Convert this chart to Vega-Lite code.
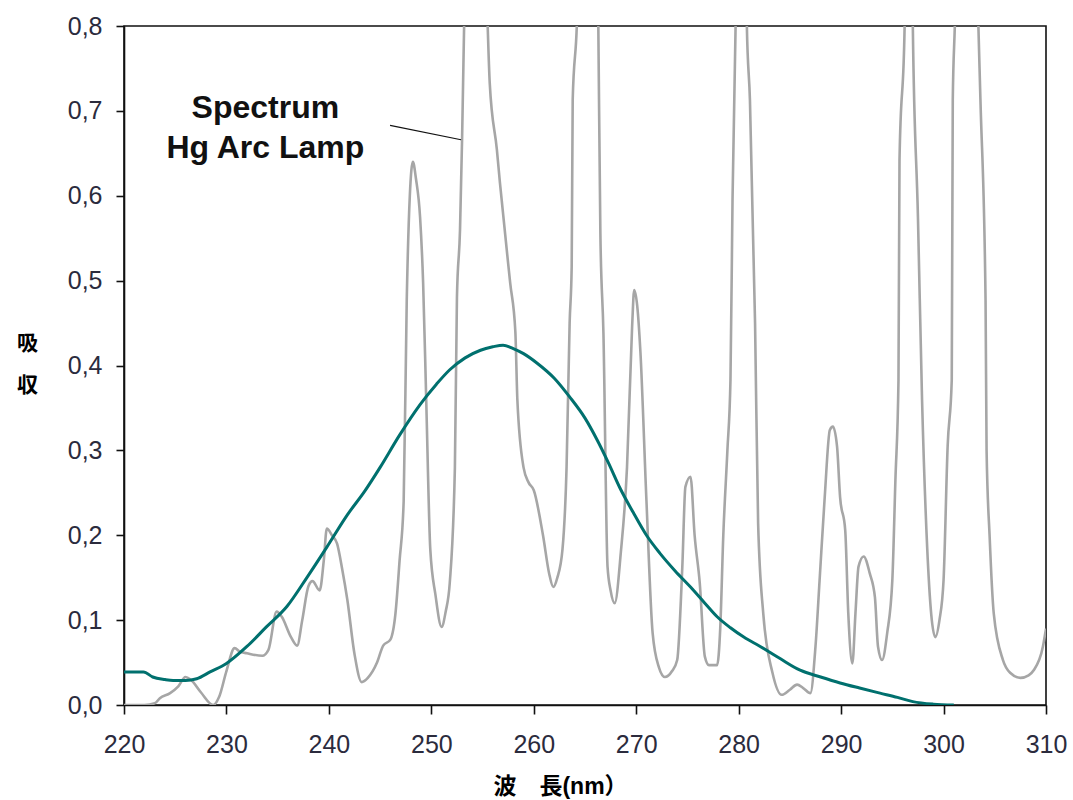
{
  "$schema": "https://vega.github.io/schema/vega-lite/v6.json",
  "width": 922,
  "height": 679,
  "autosize": "none",
  "padding": {"left": 124, "top": 26, "right": 27, "bottom": 95},
  "background": "white",
  "config": {
    "font": "Liberation Sans, Noto Sans CJK JP",
    "view": {"stroke": "#111111", "strokeWidth": 1.6},
    "axis": {
      "grid": false,
      "domainColor": "#111111",
      "domainWidth": 1.6,
      "tickColor": "#111111",
      "tickWidth": 1.6,
      "tickSize": 8,
      "labelFont": "Liberation Sans",
      "labelFontSize": 25,
      "labelColor": "#2b2b3d",
      "titleFont": "Liberation Sans, Noto Sans CJK JP",
      "titleFontWeight": "bold",
      "titleColor": "#000000"
    }
  },
  "datasets": {
    "lamp": [
      {"wl": 220, "v": 0}, {"wl": 221, "v": 0}, {"wl": 222, "v": 0}, {"wl": 223, "v": 0.002},
      {"wl": 223.5, "v": 0.008}, {"wl": 224.5, "v": 0.014}, {"wl": 225.3, "v": 0.022}, {"wl": 226, "v": 0.033},
      {"wl": 226.5, "v": 0.03}, {"wl": 227.5, "v": 0.015}, {"wl": 228.7, "v": 0.0}, {"wl": 229.3, "v": 0.01},
      {"wl": 230, "v": 0.04}, {"wl": 230.8, "v": 0.067}, {"wl": 231.3, "v": 0.063}, {"wl": 232, "v": 0.061},
      {"wl": 233.5, "v": 0.058}, {"wl": 234.1, "v": 0.065}, {"wl": 234.9, "v": 0.11}, {"wl": 235.4, "v": 0.104},
      {"wl": 236.3, "v": 0.08}, {"wl": 236.9, "v": 0.07}, {"wl": 237.4, "v": 0.1}, {"wl": 238, "v": 0.14},
      {"wl": 238.4, "v": 0.146}, {"wl": 239.1, "v": 0.135}, {"wl": 239.5, "v": 0.17}, {"wl": 239.8, "v": 0.208},
      {"wl": 240.3, "v": 0.2}, {"wl": 240.8, "v": 0.19}, {"wl": 241.3, "v": 0.16}, {"wl": 241.8, "v": 0.124},
      {"wl": 242.5, "v": 0.06}, {"wl": 243.2, "v": 0.027}, {"wl": 243.8, "v": 0.032}, {"wl": 244.7, "v": 0.05},
      {"wl": 245.3, "v": 0.07}, {"wl": 246, "v": 0.077}, {"wl": 246.5, "v": 0.108}, {"wl": 246.9, "v": 0.17},
      {"wl": 247.3, "v": 0.24}, {"wl": 247.6, "v": 0.477}, {"wl": 247.9, "v": 0.6}, {"wl": 248.2, "v": 0.64},
      {"wl": 248.5, "v": 0.62}, {"wl": 248.9, "v": 0.575}, {"wl": 249.2, "v": 0.497}, {"wl": 249.5, "v": 0.36},
      {"wl": 249.9, "v": 0.183}, {"wl": 250.4, "v": 0.13}, {"wl": 251, "v": 0.092}, {"wl": 251.4, "v": 0.11},
      {"wl": 251.8, "v": 0.144}, {"wl": 252.3, "v": 0.28}, {"wl": 252.5, "v": 0.48}, {"wl": 252.8, "v": 0.56},
      {"wl": 253.0, "v": 0.666}, {"wl": 253.1, "v": 0.733}, {"wl": 253.2, "v": 0.8}, {"wl": 254.35, "v": 1.5},
      {"wl": 255.5, "v": 0.8}, {"wl": 255.7, "v": 0.733}, {"wl": 256.4, "v": 0.654}, {"wl": 256.7, "v": 0.615},
      {"wl": 257.7, "v": 0.497}, {"wl": 258.2, "v": 0.44}, {"wl": 258.4, "v": 0.359}, {"wl": 259, "v": 0.28},
      {"wl": 259.5, "v": 0.262}, {"wl": 260, "v": 0.253}, {"wl": 260.9, "v": 0.2}, {"wl": 261.5, "v": 0.155},
      {"wl": 261.9, "v": 0.139}, {"wl": 262.3, "v": 0.15}, {"wl": 262.8, "v": 0.183}, {"wl": 263.2, "v": 0.28},
      {"wl": 263.5, "v": 0.45}, {"wl": 263.7, "v": 0.516}, {"wl": 263.8, "v": 0.713}, {"wl": 264.2, "v": 0.8},
      {"wl": 265.25, "v": 1.5}, {"wl": 266.3, "v": 0.8}, {"wl": 266.5, "v": 0.556}, {"wl": 266.8, "v": 0.438},
      {"wl": 267.2, "v": 0.163}, {"wl": 267.5, "v": 0.135}, {"wl": 267.9, "v": 0.12}, {"wl": 268.5, "v": 0.18},
      {"wl": 269.1, "v": 0.28}, {"wl": 269.6, "v": 0.446}, {"wl": 269.8, "v": 0.489}, {"wl": 270.1, "v": 0.47},
      {"wl": 270.4, "v": 0.418}, {"wl": 271, "v": 0.24}, {"wl": 271.6, "v": 0.085}, {"wl": 272.2, "v": 0.045},
      {"wl": 272.8, "v": 0.033}, {"wl": 273.5, "v": 0.04}, {"wl": 274, "v": 0.053}, {"wl": 274.5, "v": 0.163},
      {"wl": 274.8, "v": 0.257}, {"wl": 275.3, "v": 0.269}, {"wl": 275.7, "v": 0.2}, {"wl": 276.2, "v": 0.144},
      {"wl": 276.7, "v": 0.057}, {"wl": 277.1, "v": 0.047}, {"wl": 277.9, "v": 0.047}, {"wl": 278.2, "v": 0.09},
      {"wl": 278.5, "v": 0.2}, {"wl": 278.9, "v": 0.3}, {"wl": 279.2, "v": 0.383}, {"wl": 279.4, "v": 0.595},
      {"wl": 279.7, "v": 0.8}, {"wl": 280.25, "v": 1.5}, {"wl": 280.8, "v": 0.8}, {"wl": 281.1, "v": 0.713},
      {"wl": 281.6, "v": 0.45}, {"wl": 281.9, "v": 0.214}, {"wl": 282.4, "v": 0.108}, {"wl": 283.3, "v": 0.038},
      {"wl": 284.2, "v": 0.012}, {"wl": 285, "v": 0.018}, {"wl": 285.7, "v": 0.024}, {"wl": 286.3, "v": 0.02},
      {"wl": 287, "v": 0.014}, {"wl": 287.5, "v": 0.069}, {"wl": 287.9, "v": 0.147}, {"wl": 288.4, "v": 0.245},
      {"wl": 288.9, "v": 0.324}, {"wl": 289.2, "v": 0.328}, {"wl": 289.6, "v": 0.305}, {"wl": 289.9, "v": 0.245},
      {"wl": 290.4, "v": 0.206}, {"wl": 290.7, "v": 0.108}, {"wl": 291.1, "v": 0.049}, {"wl": 291.4, "v": 0.108},
      {"wl": 291.7, "v": 0.163}, {"wl": 292.2, "v": 0.175}, {"wl": 292.8, "v": 0.155}, {"wl": 293.3, "v": 0.127},
      {"wl": 293.6, "v": 0.069}, {"wl": 294, "v": 0.053}, {"wl": 294.5, "v": 0.085}, {"wl": 295, "v": 0.147},
      {"wl": 295.3, "v": 0.265}, {"wl": 295.6, "v": 0.383}, {"wl": 295.7, "v": 0.642}, {"wl": 296.2, "v": 0.8},
      {"wl": 296.6, "v": 1.5}, {"wl": 297, "v": 0.8}, {"wl": 297.5, "v": 0.575}, {"wl": 297.9, "v": 0.36},
      {"wl": 298.4, "v": 0.186}, {"wl": 299.2, "v": 0.08}, {"wl": 299.6, "v": 0.1}, {"wl": 300, "v": 0.147},
      {"wl": 300.4, "v": 0.305}, {"wl": 300.8, "v": 0.383}, {"wl": 300.9, "v": 0.713}, {"wl": 301.1, "v": 0.8},
      {"wl": 302.25, "v": 1.5}, {"wl": 303.4, "v": 0.8}, {"wl": 303.6, "v": 0.713}, {"wl": 304.1, "v": 0.477},
      {"wl": 304.2, "v": 0.3}, {"wl": 304.5, "v": 0.198}, {"wl": 304.9, "v": 0.108}, {"wl": 305.8, "v": 0.053},
      {"wl": 306.5, "v": 0.038}, {"wl": 307.5, "v": 0.032}, {"wl": 308.3, "v": 0.035}, {"wl": 308.8, "v": 0.041},
      {"wl": 309.7, "v": 0.069}, {"wl": 310, "v": 0.09}
    ],
    "absorb": [
      {"wl": 220, "v": 0.039}, {"wl": 221.9, "v": 0.039}, {"wl": 222.8, "v": 0.033}, {"wl": 224, "v": 0.03},
      {"wl": 224.8, "v": 0.029}, {"wl": 226, "v": 0.029}, {"wl": 227.1, "v": 0.031}, {"wl": 228.4, "v": 0.039},
      {"wl": 230, "v": 0.049}, {"wl": 232, "v": 0.069}, {"wl": 233.9, "v": 0.092}, {"wl": 235.9, "v": 0.116},
      {"wl": 237.9, "v": 0.151}, {"wl": 239.8, "v": 0.186}, {"wl": 241.8, "v": 0.224}, {"wl": 243.5, "v": 0.252},
      {"wl": 245, "v": 0.28}, {"wl": 246.9, "v": 0.318}, {"wl": 248.9, "v": 0.354}, {"wl": 250.5, "v": 0.378},
      {"wl": 251.8, "v": 0.395}, {"wl": 253.3, "v": 0.409}, {"wl": 254.8, "v": 0.418}, {"wl": 256, "v": 0.422},
      {"wl": 257, "v": 0.424}, {"wl": 258, "v": 0.42}, {"wl": 259, "v": 0.414}, {"wl": 260.3, "v": 0.403},
      {"wl": 262, "v": 0.385}, {"wl": 263.5, "v": 0.363}, {"wl": 265, "v": 0.338}, {"wl": 266.2, "v": 0.312},
      {"wl": 267.3, "v": 0.285}, {"wl": 268.4, "v": 0.256}, {"wl": 269.7, "v": 0.227}, {"wl": 271, "v": 0.2},
      {"wl": 272.3, "v": 0.179}, {"wl": 273.8, "v": 0.158}, {"wl": 275.3, "v": 0.139}, {"wl": 276.7, "v": 0.12},
      {"wl": 277.9, "v": 0.104}, {"wl": 279.2, "v": 0.091}, {"wl": 280.5, "v": 0.08}, {"wl": 282.1, "v": 0.069},
      {"wl": 284, "v": 0.055}, {"wl": 286, "v": 0.041}, {"wl": 288, "v": 0.033}, {"wl": 289.9, "v": 0.026},
      {"wl": 291.8, "v": 0.02}, {"wl": 293.8, "v": 0.014}, {"wl": 295.5, "v": 0.009}, {"wl": 297, "v": 0.004},
      {"wl": 299, "v": 0.001}, {"wl": 301, "v": 0.0}
    ],
    "one": [{}]
  },
  "layer": [
    {
      "data": {"name": "lamp"},
      "mark": {"type": "line", "color": "#a6a6a6", "strokeWidth": 2.6, "clip": true, "interpolate": "monotone"},
      "encoding": {
        "x": {
          "field": "wl", "type": "quantitative",
          "scale": {"domain": [220, 310], "nice": false, "zero": false},
          "axis": {
            "values": [220, 230, 240, 250, 260, 270, 280, 290, 300, 310],
            "tickSize": 9,
            "labelPadding": 18,
            "labelFlush": false,
            "title": "波　長(nm）",
            "titleFontSize": 23,
            "titleAngle": 0,
            "titleAlign": "center",
            "titleBaseline": "middle",
            "titleX": 436,
            "titleY": 81
          }
        },
        "y": {
          "field": "v", "type": "quantitative",
          "scale": {"domain": [0, 0.8], "nice": false},
          "axis": {
            "values": [0, 0.1, 0.2, 0.3, 0.4, 0.5, 0.6, 0.7, 0.8],
            "labelExpr": "replace(format(datum.value, '.1f'), '.', ',')",
            "labelPadding": 14,
            "labelFlush": false,
            "title": ["吸", "収"],
            "titleFontSize": 21,
            "titleAngle": 0,
            "titleAlign": "center",
            "titleBaseline": "middle",
            "titleLineHeight": 42,
            "titleX": -97,
            "titleY": 317
          }
        }
      }
    },
    {
      "data": {"name": "absorb"},
      "mark": {"type": "line", "color": "#00706e", "strokeWidth": 3, "clip": true, "interpolate": "monotone"},
      "encoding": {
        "x": {"field": "wl", "type": "quantitative"},
        "y": {"field": "v", "type": "quantitative"}
      }
    },
    {
      "data": {"name": "one"},
      "mark": {"type": "rule", "color": "#111111", "strokeWidth": 1.2},
      "encoding": {
        "x": {"datum": 245.97},
        "y": {"datum": 0.683},
        "x2": {"datum": 252.9},
        "y2": {"datum": 0.666}
      }
    },
    {
      "data": {"name": "one"},
      "mark": {
        "type": "text",
        "fontSize": 32,
        "fontWeight": "bold",
        "font": "Liberation Sans",
        "color": "#111111",
        "align": "center",
        "baseline": "middle",
        "lineHeight": 40
      },
      "encoding": {
        "x": {"datum": 233.8},
        "y": {"datum": 0.703},
        "text": {"value": ["Spectrum", "Hg Arc Lamp"]}
      }
    }
  ]
}
